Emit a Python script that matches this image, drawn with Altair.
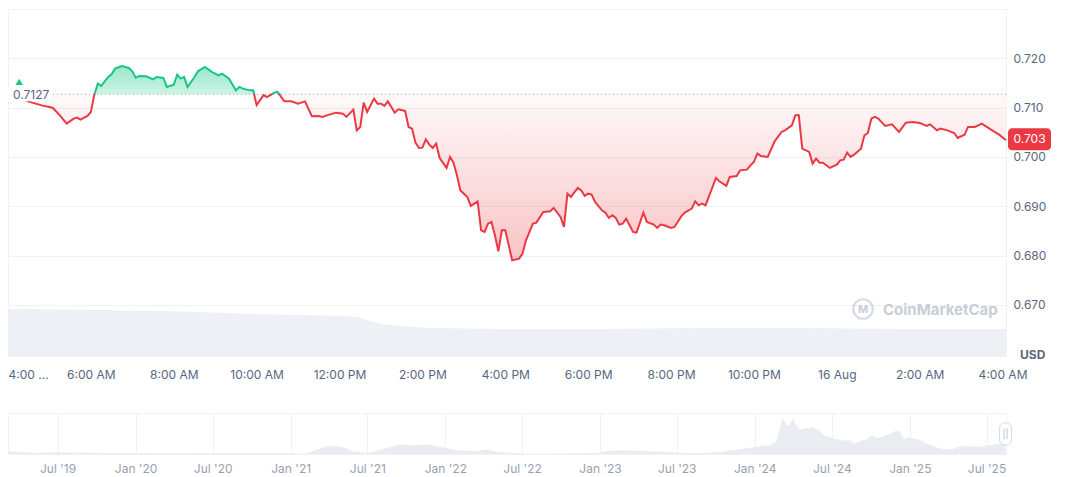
import altair as alt
import pandas as pd

# ---------------- data ----------------
# intraday price (minutes after 15 Aug 2025 04:00, USD)
minutes = [0, 10, 20, 30, 40, 50, 60, 65, 75, 85, 95, 100, 105, 115, 120, 125, 130, 135, 145, 150,
           155, 165, 175, 180, 185, 190, 200, 210, 215, 225, 230, 240, 245, 250, 255, 260, 270, 275, 280, 285,
           295, 305, 310, 320, 330, 335, 340, 350, 355, 360, 370, 375, 385, 390, 400, 410, 420, 430, 440, 450,
           455, 465, 475, 485, 490, 500, 505, 510, 515, 520, 530, 535, 540, 545, 550, 560, 565, 575, 580, 585,
           590, 595, 600, 605, 610, 615, 620, 625, 635, 640, 645, 650, 655, 665, 670, 680, 685, 690, 695, 700,
           705, 710, 715, 720, 730, 740, 745, 750, 760, 765, 775, 785, 790, 800, 805, 810, 815, 825, 830, 835,
           840, 845, 850, 860, 865, 870, 875, 880, 885, 890, 895, 900, 905, 910, 920, 925, 935, 940, 945, 950,
           960, 965, 975, 980, 990, 995, 1000, 1005, 1010, 1025, 1030, 1040, 1045, 1055, 1060, 1070, 1075, 1080, 1085, 1090,
           1100, 1110, 1120, 1125, 1135, 1140, 1145, 1150, 1160, 1165, 1170, 1175, 1180, 1190, 1200, 1205, 1210, 1215, 1220, 1225,
           1235, 1240, 1245, 1250, 1255, 1260, 1270, 1280, 1290, 1300, 1310, 1320, 1330, 1335, 1345, 1350, 1360, 1370, 1375, 1385,
           1390, 1400, 1410, 1415, 1425, 1435, 1445]
prices = [0.7127, 0.71243, 0.71182, 0.71121, 0.71081, 0.71040, 0.71014, 0.70993, 0.70843, 0.70675, 0.70776, 0.70797, 0.70756, 0.70831, 0.70912, 0.71263, 0.71486, 0.71440, 0.71622, 0.71675,
          0.71790, 0.71845, 0.71805, 0.71736, 0.71608, 0.71642, 0.71634, 0.71573, 0.71622, 0.71602, 0.71419, 0.71466, 0.71669, 0.71588, 0.71622, 0.71419, 0.71622, 0.71736, 0.71780, 0.71825,
          0.71724, 0.71655, 0.71689, 0.71588, 0.71350, 0.71419, 0.71385, 0.71350, 0.71350, 0.71050, 0.71253, 0.71212, 0.71300, 0.71324, 0.71127, 0.71127, 0.71081, 0.71127, 0.70827, 0.70831,
          0.70811, 0.70858, 0.70898, 0.70878, 0.70811, 0.70959, 0.70539, 0.70608, 0.71101, 0.70912, 0.71182, 0.71081, 0.71081, 0.71034, 0.71127, 0.70898, 0.70965, 0.70933, 0.70608, 0.70574,
          0.70290, 0.70182, 0.70188, 0.70357, 0.70249, 0.70182, 0.70269, 0.69979, 0.69777, 0.70000, 0.69884, 0.69627, 0.69322, 0.69189, 0.69006, 0.69099, 0.68511, 0.68479, 0.68647, 0.68682,
          0.68410, 0.68085, 0.68511, 0.68511, 0.67903, 0.67937, 0.68039, 0.68308, 0.68647, 0.68667, 0.68884, 0.68896, 0.68965, 0.68783, 0.68580, 0.69255, 0.69189, 0.69371, 0.69322, 0.69209,
          0.69255, 0.69235, 0.69087, 0.68917, 0.68870, 0.68763, 0.68815, 0.68763, 0.68627, 0.68647, 0.68748, 0.68613, 0.68479, 0.68465, 0.68870, 0.68682, 0.68627, 0.68560, 0.68627, 0.68613,
          0.68560, 0.68580, 0.68799, 0.68870, 0.68951, 0.69099, 0.69018, 0.69053, 0.69018, 0.69574, 0.69505, 0.69412, 0.69594, 0.69614, 0.69728, 0.69742, 0.69829, 0.69898, 0.70067, 0.70020,
          0.70000, 0.70316, 0.70507, 0.70539, 0.70641, 0.70843, 0.70843, 0.70168, 0.70101, 0.69864, 0.69965, 0.69884, 0.69884, 0.69777, 0.69844, 0.69931, 0.69945, 0.70087, 0.70000, 0.70046,
          0.70168, 0.70438, 0.70486, 0.70776, 0.70811, 0.70776, 0.70628, 0.70661, 0.70507, 0.70695, 0.70710, 0.70689, 0.70628, 0.70661, 0.70539, 0.70574, 0.70539, 0.70486, 0.70385, 0.70452,
          0.70608, 0.70608, 0.70675, 0.70628, 0.70539, 0.70452, 0.7034]

# intraday volume (relative units)
vol_minutes = [0, 135, 220, 280, 350, 425, 490, 505, 520, 540, 570, 610, 715, 860, 1005, 1150, 1290, 1445]
volumes = [470, 460, 450, 440, 420, 410, 400, 390, 360, 320, 300, 280, 270, 270, 280, 280, 270, 270]

# long-range navigator (relative units)
nav_dates = ["2019-03-06", "2019-05-15", "2019-06-26", "2019-10-18", "2020-03-28", "2020-09-10", "2021-01-07",
             "2021-02-03", "2021-03-07", "2021-03-22", "2021-04-04", "2021-04-12", "2021-04-20", "2021-05-02",
             "2021-05-10", "2021-05-26", "2021-06-28", "2021-07-14", "2021-08-15", "2021-09-17", "2021-10-19",
             "2021-11-21", "2021-12-07", "2022-01-01", "2022-02-03", "2022-03-15", "2022-04-09", "2022-04-25",
             "2022-06-05", "2022-07-23", "2022-12-28", "2023-01-13", "2023-02-14", "2023-03-18", "2023-04-28",
             "2023-06-08", "2023-07-19", "2023-08-29", "2023-10-17", "2023-11-02", "2023-12-05", "2024-01-06",
             "2024-02-08", "2024-02-20", "2024-02-28", "2024-03-07", "2024-03-15", "2024-03-23", "2024-03-31",
             "2024-04-08", "2024-04-17", "2024-04-29", "2024-05-15", "2024-06-01", "2024-06-13", "2024-06-25",
             "2024-07-12", "2024-07-28", "2024-08-09", "2024-08-26", "2024-09-07", "2024-09-19", "2024-10-01",
             "2024-10-17", "2024-11-03", "2024-11-19", "2024-12-01", "2024-12-10", "2024-12-18", "2024-12-30",
             "2025-01-24", "2025-02-18", "2025-03-14", "2025-04-08", "2025-04-24", "2025-05-19", "2025-06-12",
             "2025-07-07", "2025-07-23", "2025-08-15"]
nav_values = [8, 3, 5, 3, 2, 3, 3, 1, 13, 20, 24, 21, 22, 20, 18, 8, 3, 6, 18, 28, 25, 27, 24, 18, 10, 8, 13, 8,
              3, 1, 3, 8, 11, 10, 8, 6, 3, 3, 6, 10, 15, 21, 26, 36, 68, 103, 83, 83, 103, 83, 70, 73, 78, 68,
              53, 48, 43, 38, 40, 30, 38, 40, 53, 46, 53, 60, 68, 63, 43, 48, 40, 26, 16, 13, 20, 23, 21, 25,
              28, 30]

y_ticks = [0.67, 0.68, 0.69, 0.70, 0.71, 0.72, 0.73]
nav_tick_dates = ["2019-07-01", "2020-01-01", "2020-07-01", "2021-01-01", "2021-07-01", "2022-01-01",
                  "2022-07-01", "2023-01-01", "2023-07-01", "2024-01-01", "2024-07-01", "2025-01-01",
                  "2025-07-01"]

# ---------------- build ----------------
W, H = 998, 347
NAV_H = 41
GREEN = "#16c784"
RED = "#ea3943"
TXT = "#58667e"
GRID = "#eff2f5"
Y_LO, Y_HI = 0.65963, 0.730
VOL_MAX = 3470
PAD = {"left": -5, "top": 0, "right": 0, "bottom": 0}

START = pd.Timestamp("2025-08-15 04:00")
BASE = prices[0]
LAST = prices[-1]
pmax, pmin = max(prices), min(prices)
split = (pmax - BASE) / (pmax - pmin)


def ts(t):
    return t.strftime("%Y-%m-%dT%H:%M:%S")


df = pd.DataFrame({"time": [ts(START + pd.Timedelta(minutes=m)) for m in minutes], "price": prices})
vdf = pd.DataFrame({"time": [ts(START + pd.Timedelta(minutes=m)) for m in vol_minutes], "vol": volumes})
t0 = ts(START)
t1 = ts(START + pd.Timedelta(minutes=minutes[-1]))
tick_times = [ts(START + pd.Timedelta(hours=h)) for h in range(0, 25, 2)]

xs = alt.Scale(type="time", domain=[t0, t1], nice=False)
xax = alt.Axis(values=tick_times,
               labelExpr="hours(datum.value) == 0 ? timeFormat(datum.value, '%-d %b') : "
                         "(datum.index == 0 ? '4:00 ...' : timeFormat(datum.value, '%-I:%M %p'))",
               labelFlush=True, labelOverlap=False, grid=False, ticks=False, domain=False,
               labelPadding=13, labelColor=TXT, labelFontSize=12)
ys = alt.Scale(domain=[Y_LO, Y_HI], nice=False, zero=False)
yax = alt.Axis(orient="right", values=y_ticks,
               labelExpr="datum.value > 0.7295 ? '' : format(datum.value, '.3f')",
               grid=True, gridColor=GRID, ticks=False, domain=False, labelPadding=7,
               labelColor=TXT, labelFontSize=12)

X = alt.X("time:T", scale=xs, axis=xax, title=None)


def Yp(f):
    return alt.Y(f, type="quantitative", scale=ys, axis=yax, title=None)


base = alt.Chart(df).transform_calculate(
    top=f"max(datum.price, {BASE})", bot=f"min(datum.price, {BASE})", base=f"{BASE}")

green_area = base.mark_area(
    fill=alt.Gradient(gradient="linear", x1=0, y1=0, x2=0, y2=1,
                      stops=[alt.GradientStop(color="rgba(22,199,132,0.42)", offset=0),
                             alt.GradientStop(color="rgba(22,199,132,0.22)", offset=1)])
).encode(x=X, y=Yp("top"), y2="base:Q")

red_area = base.mark_area(
    fill=alt.Gradient(gradient="linear", x1=0, y1=0, x2=0, y2=1,
                      stops=[alt.GradientStop(color="rgba(234,57,67,0.03)", offset=0),
                             alt.GradientStop(color="rgba(234,57,67,0.30)", offset=1)])
).encode(x=X, y=Yp("base"), y2="bot:Q")

line = base.mark_line(
    strokeWidth=2,
    stroke=alt.Gradient(gradient="linear", x1=0, y1=0, x2=0, y2=1,
                        stops=[alt.GradientStop(color=GREEN, offset=0),
                               alt.GradientStop(color=GREEN, offset=split),
                               alt.GradientStop(color=RED, offset=split),
                               alt.GradientStop(color=RED, offset=1)])
).encode(x=X, y=Yp("price"))

# volume drawn at the foot of the price panel (own linear mapping onto the lower part)
volume = alt.Chart(vdf).transform_calculate(
    vy=f"{Y_LO} + datum.vol / {VOL_MAX} * {Y_HI - Y_LO}", vb=f"{Y_LO}"
).mark_area(color="#edf0f4").encode(x=X, y=Yp("vy"), y2="vb:Q")

bdf = pd.DataFrame({"base": [BASE], "txt": [f"{BASE:.4f}"], "tri": ["▲"]})
base_rule = alt.Chart(bdf).mark_rule(color="#9aa3b5", strokeDash=[1, 3], strokeWidth=1).encode(y=Yp("base"))
base_box = alt.Chart(bdf).mark_rect(color="white", yOffset=-7, y2Offset=7).encode(
    x=alt.value(-1), x2=alt.value(42), y=Yp("base"), y2="base:Q")
base_txt = alt.Chart(bdf).mark_text(align="left", baseline="middle", fontSize=12, color=TXT, dy=1).encode(
    x=alt.value(5), y=Yp("base"), text="txt:N")
tri = alt.Chart(bdf).mark_text(align="left", baseline="middle", fontSize=8, color=GREEN, dy=-11).encode(
    x=alt.value(7), y=Yp("base"), text="tri:N")

ldf = pd.DataFrame({"price": [LAST], "txt": [f"{LAST:.3f}"]})
last_box = alt.Chart(ldf).mark_rect(color=RED, cornerRadius=4, yOffset=-12, y2Offset=10).encode(
    x=alt.value(W + 2), x2=alt.value(W + 45), y=Yp("price"), y2="price:Q")
last_txt = alt.Chart(ldf).mark_text(align="center", baseline="middle", fontSize=12, color="white", dy=-1).encode(
    x=alt.value(W + 23.5), y=Yp("price"), text="txt:N")

udf = pd.DataFrame({"t": ["USD"], "w": ["CoinMarketCap"], "m": ["M"]})
usd = alt.Chart(udf).mark_text(align="left", baseline="middle", fontSize=12, fontWeight="bold", color=TXT).encode(
    x=alt.value(W + 14), y=alt.value(H - 1), text="t:N")
wm_circle = alt.Chart(udf).mark_point(shape="circle", size=380, strokeWidth=2.2, color="#c8cdd6", filled=False).encode(
    x=alt.value(855), y=alt.value(300))
wm_m = alt.Chart(udf).mark_text(fontSize=11, fontWeight="bold", color="#c8cdd6", baseline="middle").encode(
    x=alt.value(855), y=alt.value(301), text="m:N")
wm_txt = alt.Chart(udf).mark_text(align="left", baseline="middle", fontSize=15, fontWeight="bold", color="#c8cdd6").encode(
    x=alt.value(875), y=alt.value(301), text="w:N")

main = alt.layer(volume, red_area, green_area, base_rule, line, base_box, base_txt, tri,
                 last_box, last_txt, usd, wm_circle, wm_m, wm_txt).properties(width=W, height=H)

# navigator
ndf = pd.DataFrame({"date": nav_dates, "v": nav_values})
nxs = alt.Scale(type="time", domain=["2019-03-06", "2025-08-16"], nice=False)
nax = alt.Axis(values=nav_tick_dates, format="%b '%y", grid=True, gridColor=GRID, ticks=False, domain=False,
               labelPadding=9, labelColor="#98a1b2", labelFontSize=12, labelOverlap=False)
NX = alt.X("date:T", scale=nxs, axis=nax, title=None)
nav_area = alt.Chart(ndf).mark_area(color="#e9edf2").encode(
    x=NX, y=alt.Y("v:Q", scale=alt.Scale(domain=[0, 118]), axis=None, title=None))
hdf = pd.DataFrame({"date": [nav_dates[-1]], "h": ["||"]})
handle = alt.Chart(hdf).mark_rect(fill="white", stroke="#d5dbe5", strokeWidth=1, cornerRadius=5,
                                  xOffset=-6, x2Offset=6).encode(
    x=NX, x2="date:T", y=alt.value(10), y2=alt.value(32))
handle_txt = alt.Chart(hdf).mark_text(fontSize=9, color="#a6b0c3", baseline="middle").encode(
    x=NX, y=alt.value(21), text="h:N")
nav = alt.layer(nav_area, handle, handle_txt).properties(width=W, height=NAV_H)

chart = alt.vconcat(main, nav, spacing=31).properties(padding=PAD)
chart = chart.configure(font="Inter", padding=PAD).configure_view(stroke=GRID)

chart.save("out.html", embed_options={"renderer": "svg", "actions": False})
